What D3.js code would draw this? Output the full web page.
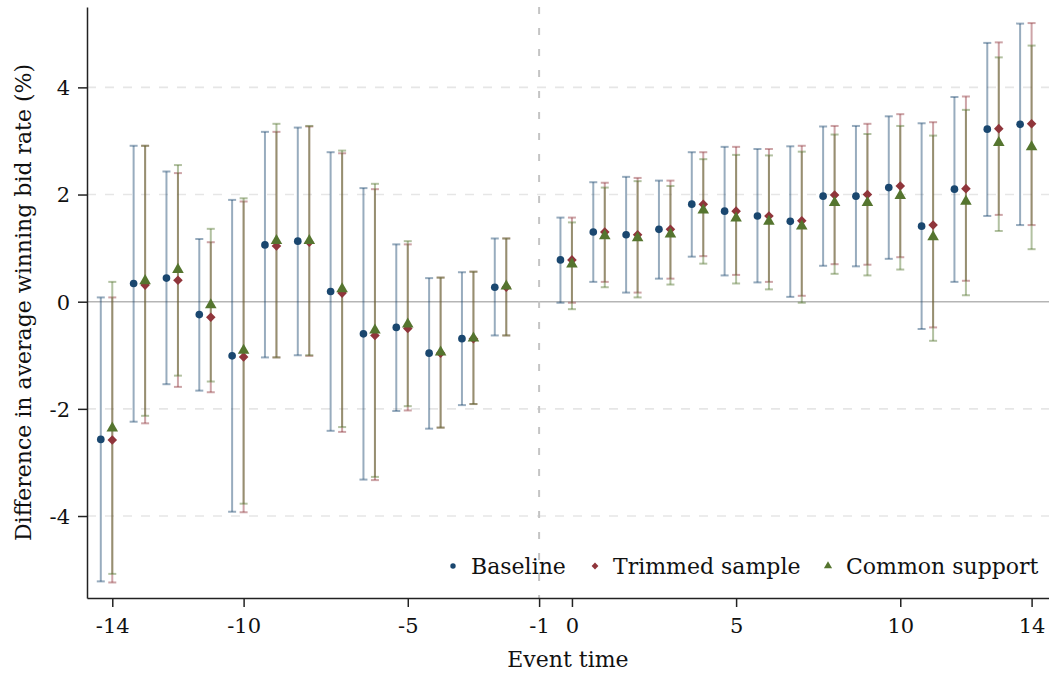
<!DOCTYPE html>
<html>
<head>
<meta charset="utf-8">
<script src="https://cdn.jsdelivr.net/npm/d3@7"></script>
<style>
  body { margin: 0; background: #fff; }
  svg text { font-family: "DejaVu Serif", Georgia, serif; fill: #111; }
</style>
</head>
<body>
<div id="chart"></div>
<script>
const eventTimes = [-14, -13, -12, -11, -10, -9, -8, -7, -6, -5, -4, -3, -2,
  0, 1, 2, 3, 4, 5, 6, 7, 8, 9, 10, 11, 12, 13, 14];

const baselineCoef = [-2.57, 0.34, 0.44, -0.24, -1.01, 1.06, 1.13, 0.19, -0.60, -0.48, -0.96, -0.69, 0.27,
  0.78, 1.30, 1.25, 1.35, 1.82, 1.69, 1.60, 1.50, 1.97, 1.97, 2.13, 1.41, 2.10, 3.22, 3.31];
const baselineLo = [-5.22, -2.24, -1.54, -1.66, -3.92, -1.04, -1.00, -2.41, -3.32, -2.04, -2.37, -1.93, -0.63,
  -0.02, 0.37, 0.17, 0.43, 0.84, 0.49, 0.36, 0.09, 0.67, 0.66, 0.80, -0.51, 0.37, 1.60, 1.43];
const baselineHi = [0.08, 2.91, 2.43, 1.17, 1.90, 3.17, 3.25, 2.79, 2.12, 1.07, 0.44, 0.55, 1.18,
  1.57, 2.23, 2.33, 2.26, 2.79, 2.89, 2.85, 2.90, 3.27, 3.28, 3.46, 3.33, 3.82, 4.83, 5.19];

const trimmedCoef = [-2.58, 0.31, 0.40, -0.29, -1.03, 1.04, 1.11, 0.16, -0.63, -0.50, -0.96, -0.69, 0.27,
  0.78, 1.30, 1.25, 1.35, 1.82, 1.69, 1.60, 1.51, 1.99, 2.00, 2.16, 1.43, 2.11, 3.23, 3.32];
const trimmedLo = [-5.24, -2.27, -1.59, -1.69, -3.93, -1.04, -1.01, -2.43, -3.33, -2.03, -2.35, -1.91, -0.63,
  -0.02, 0.37, 0.17, 0.43, 0.85, 0.50, 0.37, 0.11, 0.70, 0.69, 0.83, -0.48, 0.39, 1.62, 1.43];
const trimmedHi = [0.08, 2.91, 2.40, 1.11, 1.87, 3.17, 3.27, 2.77, 2.10, 1.07, 0.45, 0.56, 1.18,
  1.57, 2.22, 2.31, 2.26, 2.79, 2.89, 2.85, 2.91, 3.28, 3.32, 3.50, 3.35, 3.83, 4.84, 5.20];

const commonCoef = [-2.36, 0.39, 0.60, -0.06, -0.91, 1.14, 1.14, 0.24, -0.53, -0.42, -0.94, -0.68, 0.29,
  0.70, 1.23, 1.19, 1.26, 1.71, 1.56, 1.50, 1.41, 1.85, 1.85, 1.98, 1.21, 1.87, 2.97, 2.89];
const commonLo = [-5.08, -2.13, -1.38, -1.49, -3.77, -1.04, -1.00, -2.34, -3.27, -1.95, -2.35, -1.91, -0.63,
  -0.14, 0.27, 0.08, 0.32, 0.71, 0.34, 0.23, -0.02, 0.52, 0.49, 0.60, -0.73, 0.12, 1.32, 0.98];
const commonHi = [0.37, 2.91, 2.55, 1.36, 1.93, 3.32, 3.28, 2.82, 2.20, 1.13, 0.45, 0.56, 1.18,
  1.48, 2.13, 2.25, 2.16, 2.66, 2.74, 2.73, 2.80, 3.12, 3.13, 3.28, 3.10, 3.58, 4.56, 4.78];

const seriesNames = ['Baseline', 'Trimmed sample', 'Common support'];
const xTickValues = [-14, -10, -5, -1, 0, 5, 10, 14];
const yTickValues = [-4, -2, 0, 2, 4];
const referencePeriod = -1;

const width = 1049, height = 673;
const margin = { top: 7, right: 0, bottom: 75, left: 87 };
const fontSize = 22;

const series = [
  { name: seriesNames[0], coef: baselineCoef, lo: baselineLo, hi: baselineHi, color: '#1a476f', shift: -0.35, symbol: 'circle' },
  { name: seriesNames[1], coef: trimmedCoef, lo: trimmedLo, hi: trimmedHi, color: '#90353b', shift: 0, symbol: 'diamond' },
  { name: seriesNames[2], coef: commonCoef, lo: commonLo, hi: commonHi, color: '#55752f', shift: 0, symbol: 'triangle' },
];

const svg = d3.select('#chart').append('svg')
  .attr('width', width)
  .attr('height', height);

const x = d3.scaleLinear().domain([-14.77, 14.53]).range([margin.left, width - margin.right]);
const y = d3.scaleLinear().domain([-5.53, 5.5]).range([height - margin.bottom, margin.top]);

// grid lines
svg.append('g').selectAll('line')
  .data(yTickValues.filter(d => d !== 0))
  .join('line')
  .attr('x1', x.range()[0]).attr('x2', x.range()[1])
  .attr('y1', d => y(d)).attr('y2', d => y(d))
  .attr('stroke', '#e6e6e6')
  .attr('stroke-width', 1.6)
  .attr('stroke-dasharray', '9,9');

svg.append('line')
  .attr('x1', x.range()[0]).attr('x2', x.range()[1])
  .attr('y1', y(0)).attr('y2', y(0))
  .attr('stroke', '#b5b5b5')
  .attr('stroke-width', 1.6);

svg.append('line')
  .attr('x1', x(referencePeriod)).attr('x2', x(referencePeriod))
  .attr('y1', y.range()[1]).attr('y2', y.range()[0])
  .attr('stroke', '#c4c4c4')
  .attr('stroke-width', 2)
  .attr('stroke-dasharray', '7,14');

// error bars
const capHalf = 4;
series.forEach(s => {
  const rows = eventTimes.map((t, i) => ({ t: t + s.shift, lo: s.lo[i], hi: s.hi[i] }));
  const g = svg.append('g')
    .attr('stroke', s.color)
    .attr('stroke-opacity', 0.45)
    .attr('stroke-width', 2);
  g.selectAll('.ci').data(rows).join('line')
    .attr('x1', d => x(d.t)).attr('x2', d => x(d.t))
    .attr('y1', d => y(d.lo)).attr('y2', d => y(d.hi));
  g.selectAll('.capHi').data(rows).join('line')
    .attr('x1', d => x(d.t) - capHalf).attr('x2', d => x(d.t) + capHalf)
    .attr('y1', d => y(d.hi)).attr('y2', d => y(d.hi));
  g.selectAll('.capLo').data(rows).join('line')
    .attr('x1', d => x(d.t) - capHalf).attr('x2', d => x(d.t) + capHalf)
    .attr('y1', d => y(d.lo)).attr('y2', d => y(d.lo));
});

function markerPath(kind, scale) {
  if (kind === 'circle') return d3.symbol(d3.symbolCircle, 46 * scale)();
  if (kind === 'diamond') return d3.symbol(d3.symbolSquare, 46 * scale)();
  return d3.symbol(d3.symbolTriangle, 58 * scale)();
}

// point estimates
series.forEach(s => {
  svg.append('g').selectAll('path')
    .data(eventTimes.map((t, i) => ({ t: t + s.shift, v: s.coef[i] })))
    .join('path')
    .attr('d', markerPath(s.symbol, 1))
    .attr('transform', d => `translate(${x(d.t)},${y(d.v)})` + (s.symbol === 'diamond' ? ' rotate(45)' : ''))
    .attr('fill', s.color);
});

// axes
const xAxis = svg.append('g')
  .attr('transform', `translate(0,${height - margin.bottom})`)
  .call(d3.axisBottom(x).tickValues(xTickValues).tickFormat(d => String(d)).tickSize(9).tickSizeOuter(0).tickPadding(11));
const yAxis = svg.append('g')
  .attr('transform', `translate(${margin.left},0)`)
  .call(d3.axisLeft(y).tickValues(yTickValues).tickFormat(d => String(d)).tickSize(9).tickSizeOuter(0).tickPadding(8));

[xAxis, yAxis].forEach(a => {
  a.select('.domain').attr('stroke', '#222').attr('stroke-width', 1.5);
  a.selectAll('.tick line').attr('stroke', '#222').attr('stroke-width', 1.5);
  a.selectAll('.tick text').attr('font-size', 21).attr('font-family', '"DejaVu Serif", serif').attr('fill', '#111');
});
yAxis.selectAll('.tick text').attr('dy', '0.35em');

svg.append('text')
  .attr('x', (x(-14) + x(14)) / 2 - 4)
  .attr('y', 667)
  .attr('text-anchor', 'middle')
  .attr('font-size', fontSize)
  .text('Event time');

svg.append('text')
  .attr('transform', `translate(31,${(y(5.5) + y(-5.53)) / 2}) rotate(-90)`)
  .attr('text-anchor', 'middle')
  .attr('font-size', fontSize)
  .text('Difference in average winning bid rate (%)');

// legend
const legendX = [453, 595, 828];
const legend = svg.append('g');
series.forEach((s, i) => {
  legend.append('path')
    .attr('d', markerPath(s.symbol, 0.5))
    .attr('transform', `translate(${legendX[i]},566)` + (s.symbol === 'diamond' ? ' rotate(45)' : ''))
    .attr('fill', s.color);
  legend.append('text')
    .attr('x', legendX[i] + 18)
    .attr('y', 566)
    .attr('dy', '0.35em')
    .attr('font-size', fontSize)
    .text(s.name);
});
</script>
</body>
</html>
